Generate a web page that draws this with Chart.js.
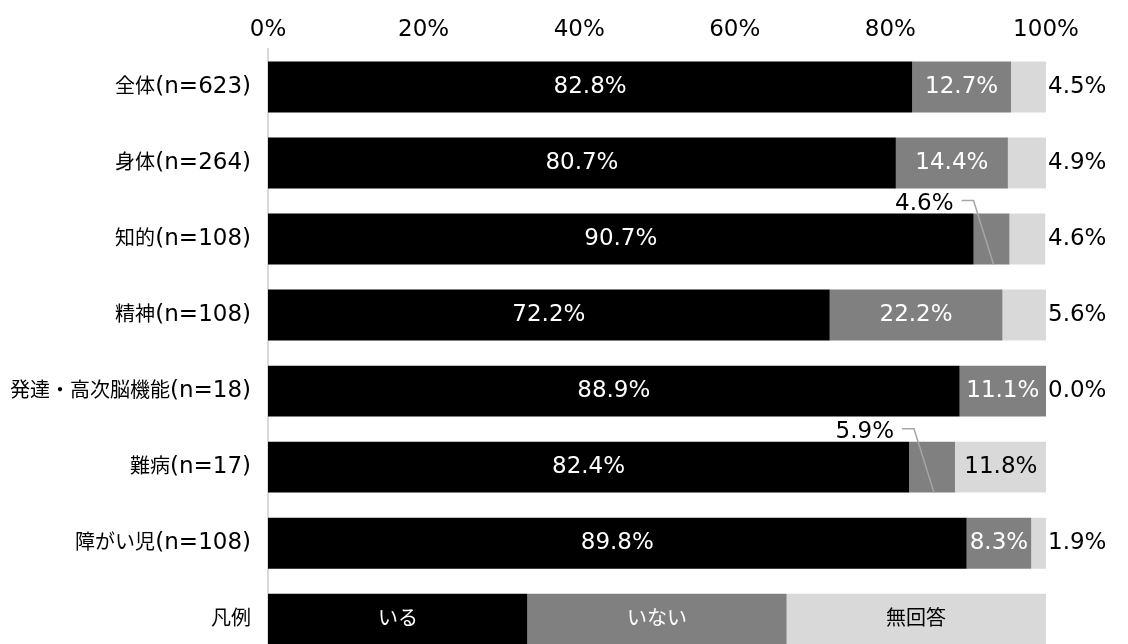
<!DOCTYPE html>
<html><head><meta charset="utf-8">
<script src="https://cdn.jsdelivr.net/npm/chart.js@4.4.1/dist/chart.umd.min.js"></script>
<style>
@font-face {
  font-family: 'JPs';
  src: local('Noto Sans CJK JP'), local('Noto Sans CJK JP Regular'), local('NotoSansCJKjp-Regular');
  size-adjust: 87%;
}
html,body{margin:0;padding:0;background:#fff;overflow:hidden;}
canvas{display:block;}
</style></head>
<body>
<canvas id="c" width="1128" height="688" style="width:1128px;height:688px"></canvas>
<script>
const categories = ['全体(n=623)','身体(n=264)','知的(n=108)','精神(n=108)','発達・高次脳機能(n=18)','難病(n=17)','障がい児(n=108)','凡例'];
const seriesNames = ['いる','いない','無回答'];
const iru     = [82.8, 80.7, 90.7, 72.2, 88.9, 82.4, 89.8, 33.33];
const inai    = [12.7, 14.4, 4.6, 22.2, 11.1, 5.9, 8.3, 33.33];
const mukaitou= [4.5, 4.9, 4.6, 5.6, 0.0, 11.8, 1.9, 33.34];
const xTicks  = [0, 20, 40, 60, 80, 100];
const colors  = ['#000000','#808080','#d9d9d9'];
const textColors = ['#ffffff','#ffffff','#000000'];
const legendIndex = categories.length - 1;

const FAMILY = '"DejaVu Sans", JPs, "Noto Sans CJK JP", sans-serif';
const FONT = '23px ' + FAMILY;

const labelPlugin = {
  id: 'barLabels',
  afterDatasetsDraw(chart) {
    const ctx = chart.ctx;
    ctx.save();
    ctx.font = FONT;
    ctx.textBaseline = 'middle';
    chart.data.datasets.forEach((ds, di) => {
      const meta = chart.getDatasetMeta(di);
      meta.data.forEach((bar, i) => {
        const v = ds.data[i];
        const p = bar.getProps(['x', 'y', 'base', 'height'], true);
        const left = Math.min(p.x, p.base), right = Math.max(p.x, p.base);
        const cx = (left + right) / 2;
        if (i === legendIndex) {
          ctx.fillStyle = textColors[di];
          ctx.textAlign = 'center';
          ctx.fillText(seriesNames[di], cx, p.y);
          return;
        }
        const txt = v.toFixed(1) + '%';
        if (di === 2 && v < 10) {
          ctx.fillStyle = '#000';
          ctx.textAlign = 'left';
          ctx.fillText(txt, chart.chartArea.right + 2, p.y);
        } else if (di === 1 && v < 7) {
          const ty = p.y - p.height / 2 - 10;
          const tr = cx - 38;
          ctx.fillStyle = '#000';
          ctx.textAlign = 'right';
          ctx.fillText(txt, tr, ty);
          ctx.strokeStyle = '#a6a6a6';
          ctx.lineWidth = 1.5;
          ctx.beginPath();
          ctx.moveTo(tr + 8, ty - 3);
          ctx.lineTo(tr + 20, ty - 3);
          ctx.lineTo(cx + 2, p.y + p.height / 2);
          ctx.stroke();
        } else {
          ctx.fillStyle = textColors[di];
          ctx.textAlign = 'center';
          ctx.fillText(txt, cx, p.y);
        }
      });
    });
    ctx.restore();
  }
};

function build() {
  new Chart(document.getElementById('c'), {
    type: 'bar',
    data: {
      labels: categories,
      datasets: [
        { label: seriesNames[0], data: iru, backgroundColor: colors[0] },
        { label: seriesNames[1], data: inai, backgroundColor: colors[1] },
        { label: seriesNames[2], data: mukaitou, backgroundColor: colors[2] }
      ]
    },
    options: {
      indexAxis: 'y',
      responsive: false,
      animation: false,
      layout: { padding: { left: 0, right: 82, top: 0, bottom: 0 } },
      datasets: { bar: { categoryPercentage: 1, barPercentage: 0.67, borderWidth: 0 } },
      plugins: { legend: { display: false }, tooltip: { enabled: false } },
      scales: {
        x: {
          position: 'top', stacked: true, min: 0, max: 100,
          afterBuildTicks: s => { s.ticks = xTicks.map(v => ({ value: v })); },
          afterFit: s => { s.height = 49; },
          grid: { display: false, drawTicks: false },
          border: { display: false },
          ticks: { padding: 5, color: '#000', font: { family: FAMILY, size: 23 }, callback: v => v + '%' }
        },
        y: {
          stacked: true,
          afterFit: s => { s.width = 268; },
          grid: { display: false, drawTicks: false },
          border: { display: true, color: '#d9d9d9', width: 2 },
          ticks: { padding: 17, color: '#000', font: { family: FAMILY, size: 23 } }
        }
      }
    },
    plugins: [labelPlugin]
  });
}

Promise.all([
  document.fonts.load('23px JPs', '全体凡例いるない無回答'),
  document.fonts.load('23px "DejaVu Sans"', '0123456789%')
]).catch(() => {}).then(() => build());
</script>
</body></html>
